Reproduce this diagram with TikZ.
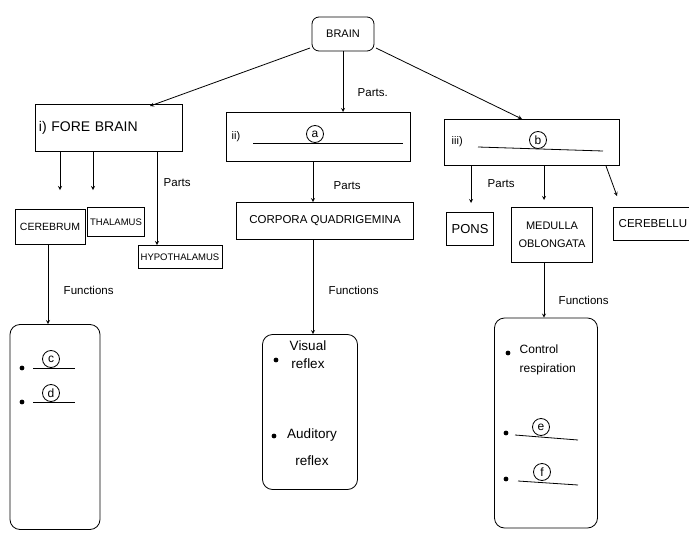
\documentclass[tikz,border=0pt]{standalone}
\usepackage{fontspec}
\setmainfont{Liberation Sans}
\begin{document}
\begin{tikzpicture}[x=1pt,y=-1pt,
  line width=0.8pt,
  arr/.style={->,>=stealth},
  box/.style={draw,rectangle,inner sep=2pt,font=\fontsize{10.5}{11}\selectfont},
  rbox/.style={draw,rounded corners=10pt},
  lbl/.style={font=\fontsize{11.5}{13}\selectfont,anchor=west},
  circ/.style={draw,circle,inner sep=0pt,minimum size=17pt,font=\fontsize{12}{12}\selectfont},
  bul/.style={fill,circle,inner sep=1.7pt}]
\useasboundingbox (0,0) rectangle (689,533);
% Root
\node[draw,rounded corners=7pt,minimum width=62pt,minimum height=34pt,font=\fontsize{11}{12}\selectfont] (brain) at (343,34) {BRAIN};
% Level 1 boxes
\node[box,minimum width=147pt,minimum height=47pt,font=\fontsize{14}{15}\selectfont,anchor=west,text width=140pt,align=left] (fore) at (35,128) {i) FORE BRAIN};
\node[draw,minimum width=184pt,minimum height=49pt] (mid) at (318,137) {};
\node[draw,minimum width=175pt,minimum height=46pt] (hind) at (532,142) {};
% inner of mid
\node[font=\fontsize{11}{12}\selectfont,anchor=west] (midnum) at (228,137) {ii)};
\coordinate (ma1) at (253,143); \coordinate (ma2) at (403,143);
\draw (ma1) -- (ma2);
\node[circ] (ca) at (315,134) {a};
\node[font=\fontsize{11}{12}\selectfont,anchor=west] (hindnum) at (448,142) {iii)};
\coordinate (hb1) at (478,147); \coordinate (hb2) at (603,151);
\draw (hb1) -- (hb2);
\node[circ] (cb) at (538,140) {b};
% root arrows
\coordinate (b1) at (310,48);
\coordinate (b1e) at (150,106);
\draw[arr] (b1) -- (b1e);
\coordinate (b2e) at (343,112);
\draw[arr] (brain.south) -- (b2e);
\coordinate (b3) at (376,48);
\coordinate (b3e) at (522,119);
\draw[arr] (b3) -- (b3e);
\node[lbl] (partsroot) at (354,93) {Parts.};
% Fore brain children
\node[box,minimum width=70pt,minimum height=35pt] (cere) at (50,227) {CEREBRUM};
\node[box,minimum width=57pt,minimum height=29pt,font=\fontsize{9.5}{10}\selectfont] (thal) at (116,222) {THALAMUS};
\node[box,minimum width=84pt,minimum height=23pt,font=\fontsize{9.5}{10}\selectfont] (hypo) at (180,257) {HYPOTHALAMUS};
\coordinate (cs) at (60,152); \coordinate (ce) at (60,190);
\coordinate (ts) at (93,152); \coordinate (te) at (93,190);
\coordinate (hs) at (157,152); \coordinate (he) at (157,245);
\draw[arr] (cs) -- (ce);
\draw[arr] (ts) -- (te);
\draw[arr] (hs) -- (he);
\node[lbl] (partsfore) at (160,183) {Parts};
% Mid children
\node[box,minimum width=177pt,minimum height=37pt,font=\fontsize{11.5}{12}\selectfont] (corp) at (325,221) {CORPORA QUADRIGEMINA};
\coordinate (ms) at (313,162);
\draw[arr] (ms) -- (ms |- corp.north);
\node[lbl] (partsmid) at (330,186) {Parts};
% Hind children
\node[box,minimum width=47pt,minimum height=33pt,font=\fontsize{13}{14}\selectfont] (pons) at (470,229) {PONS};
\node[box,minimum width=81pt,minimum height=55pt,align=center,font=\fontsize{11}{18}\selectfont] (med) at (552,235) {MEDULLA\\OBLONGATA};
\node[draw,minimum width=85pt,minimum height=33pt,anchor=west] (cbl) at (613,224) {};
\node[font=\fontsize{11.5}{12}\selectfont,anchor=west] (cbltxt) at (615,224) {CEREBELLU};
\coordinate (ps) at (471,165); \coordinate (pe) at (471,203);
\coordinate (mds) at (544,165); \coordinate (mde) at (544,200);
\coordinate (cbs) at (606,166); \coordinate (cbe) at (617,196);
\draw[arr] (ps) -- (pe);
\draw[arr] (mds) -- (mde);
\draw[arr] (cbs) -- (cbe);
\node[lbl] (partshind) at (484,184) {Parts};
% Functions level
\node[rbox,minimum width=90pt,minimum height=205pt] (f1) at (55,427) {};
\node[rbox,minimum width=95pt,minimum height=155pt] (f2) at (310,412) {};
\node[rbox,minimum width=103pt,minimum height=210pt] (f3) at (546,423) {};
\coordinate (f1s) at (48,244.5);
\draw[arr] (f1s) -- (f1s |- f1.north);
\node[lbl] (fn1) at (60,290) {Functions};
\coordinate (f2s) at (313,239.5);
\draw[arr] (f2s) -- (f2s |- f2.north);
\node[lbl] (fn2) at (325,290) {Functions};
\coordinate (f3s) at (544,262.5);
\draw[arr] (f3s) -- (f3s |- f3.north);
\node[lbl] (fn3) at (555,300) {Functions};
% f1 content
\node[bul] (d1) at (22,368) {};
\node[bul] (d2) at (22,402) {};
\coordinate (l1a) at (33,368); \coordinate (l1b) at (75,368);
\coordinate (l2a) at (33,402); \coordinate (l2b) at (75,402);
\draw (l1a) -- (l1b); \draw (l2a) -- (l2b);
\node[circ] (cc) at (51,359) {c};
\node[circ] (cd) at (51,393) {d};
% f2 content
\node[bul] (d3) at (276,360) {};
\node[bul] (d4) at (274,436) {};
\node[font=\fontsize{13.5}{18}\selectfont,align=center] (vis) at (308,355) {Visual\\reflex};
\node[font=\fontsize{13.5}{27}\selectfont,align=center] (aud) at (312,447) {Auditory\\reflex};
% f3 content
\node[bul] (d5) at (508,353) {};
\node[bul] (d6) at (506,433) {};
\node[bul] (d7) at (506,479) {};
\node[font=\fontsize{12}{19}\selectfont,align=left,anchor=west] (ctrl) at (516,360) {Control\\respiration};
\coordinate (l3a) at (515,435); \coordinate (l3b) at (578,440);
\coordinate (l4a) at (518,481); \coordinate (l4b) at (578,485);
\draw (l3a) -- (l3b); \draw (l4a) -- (l4b);
\node[circ] (ce2) at (541,427) {e};
\node[circ] (cf) at (542,472) {f};
\end{tikzpicture}
\end{document}
